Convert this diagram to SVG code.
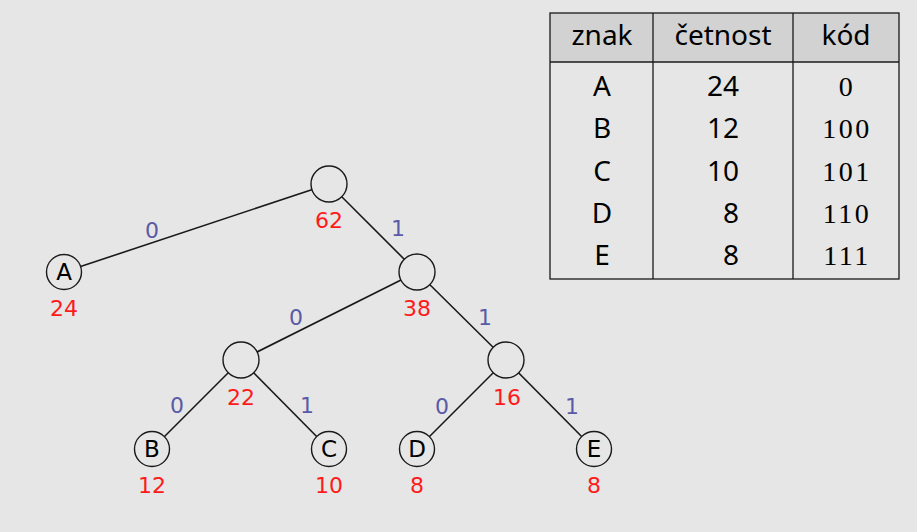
<svg xmlns="http://www.w3.org/2000/svg" width="917" height="532" viewBox="0 0 917 532">
<style>
.bg{fill:#e6e6e6}
.edge{stroke:#1a1a1a;stroke-width:1.6;fill:none}
.node{fill:#e6e6e6;stroke:#1a1a1a;stroke-width:1.4}
.lbl{font-family:"DejaVu Sans",Verdana,sans-serif;font-size:22px;text-anchor:middle}
.let{fill:#000;font-size:23px}
.val{fill:#ff1a1a}
.bit{fill:#5a5aa8}
.tb{font-family:"Noto Sans","Open Sans",sans-serif;font-size:28px;fill:#000;text-anchor:middle}
.code{font-family:"Liberation Serif","DejaVu Serif",serif;font-size:28px;letter-spacing:2.5px;fill:#000;text-anchor:middle}
.tl{stroke:#1a1a1a;stroke-width:1.3;fill:none}
</style>
<rect class="bg" x="0" y="0" width="917" height="532"/>
<g id="connectors">
<line class="edge" x1="329" y1="184" x2="64" y2="272"/>
<line class="edge" x1="329" y1="184" x2="417" y2="272"/>
<line class="edge" x1="417" y1="272" x2="241" y2="360"/>
<line class="edge" x1="417" y1="272" x2="506" y2="360"/>
<line class="edge" x1="241" y1="360" x2="152" y2="449"/>
<line class="edge" x1="241" y1="360" x2="329" y2="449"/>
<line class="edge" x1="506" y1="360" x2="417" y2="449"/>
<line class="edge" x1="506" y1="360" x2="594" y2="449"/>
<text class="lbl bit" x="152" y="238">0</text>
<text class="lbl bit" x="398" y="236">1</text>
<text class="lbl bit" x="296" y="325">0</text>
<text class="lbl bit" x="485" y="325">1</text>
<text class="lbl bit" x="177" y="413">0</text>
<text class="lbl bit" x="307" y="413">1</text>
<text class="lbl bit" x="442" y="414">0</text>
<text class="lbl bit" x="572" y="414">1</text>
</g>
<g id="n62"><circle class="node" cx="329" cy="184" r="18"/><text class="lbl val" x="329" y="228">62</text></g>
<g id="nA"><circle class="node" cx="64" cy="272" r="17.5"/><text class="lbl let" x="64" y="280">A</text><text class="lbl val" x="64" y="316">24</text></g>
<g id="n38"><circle class="node" cx="417" cy="272" r="18"/><text class="lbl val" x="417" y="316">38</text></g>
<g id="n22"><circle class="node" cx="241" cy="360" r="18"/><text class="lbl val" x="241" y="405">22</text></g>
<g id="n16"><circle class="node" cx="506" cy="360" r="18"/><text class="lbl val" x="507" y="405">16</text></g>
<g id="nB"><circle class="node" cx="152" cy="449" r="17.5"/><text class="lbl let" x="152" y="457">B</text><text class="lbl val" x="152" y="493">12</text></g>
<g id="nC"><circle class="node" cx="329" cy="449" r="17.5"/><text class="lbl let" x="329" y="457">C</text><text class="lbl val" x="329" y="493">10</text></g>
<g id="nD"><circle class="node" cx="417" cy="449" r="17.5"/><text class="lbl let" x="417" y="457">D</text><text class="lbl val" x="417" y="493">8</text></g>
<g id="nE"><circle class="node" cx="594" cy="449" r="17.5"/><text class="lbl let" x="594" y="457">E</text><text class="lbl val" x="594" y="493">8</text></g>
<g id="table">
<rect x="550" y="13" width="349" height="49" fill="#d2d2d2"/>
<rect class="tl" x="550" y="13" width="349" height="266"/>
<line class="tl" x1="550" y1="62" x2="899" y2="62"/>
<line class="tl" x1="653" y1="13" x2="653" y2="279"/>
<line class="tl" x1="793" y1="13" x2="793" y2="279"/>
<text class="tb" x="602" y="45">znak</text>
<text class="tb" x="723" y="45">četnost</text>
<text class="tb" x="846" y="45">kód</text>
<text class="tb" x="602" y="96">A</text>
<text class="tb" x="602" y="138">B</text>
<text class="tb" x="602" y="181">C</text>
<text class="tb" x="602" y="223">D</text>
<text class="tb" x="602" y="265">E</text>
<text class="tb" x="739" y="96" style="text-anchor:end">24</text>
<text class="tb" x="739" y="138" style="text-anchor:end">12</text>
<text class="tb" x="739" y="181" style="text-anchor:end">10</text>
<text class="tb" x="739" y="223" style="text-anchor:end">8</text>
<text class="tb" x="739" y="265" style="text-anchor:end">8</text>
<text class="code" x="847" y="96">0</text>
<text class="code" x="847" y="138">100</text>
<text class="code" x="847" y="181">101</text>
<text class="code" x="847" y="223">110</text>
<text class="code" x="847" y="265">111</text>
</g>
</svg>
